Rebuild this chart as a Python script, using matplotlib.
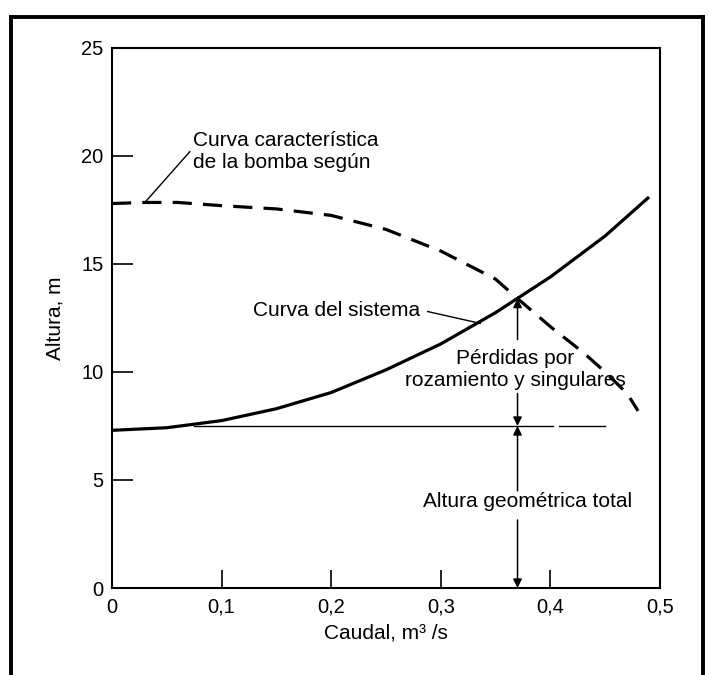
import matplotlib
matplotlib.use("Agg")
import matplotlib.pyplot as plt
from matplotlib.lines import Line2D

plt.rcParams['font.family'] = ['Liberation Sans', 'DejaVu Sans']

# Data
q_sistema = [0.0, 0.05, 0.10, 0.15, 0.20, 0.25, 0.30, 0.35, 0.40, 0.45, 0.49]
h_sistema = [7.3, 7.42, 7.75, 8.3, 9.05, 10.1, 11.3, 12.75, 14.4, 16.3, 18.1]

q_bomba = [0.0, 0.03, 0.06, 0.10, 0.15, 0.20, 0.25, 0.30, 0.35, 0.37, 0.40, 0.43, 0.45, 0.47, 0.48]
h_bomba = [17.8, 17.85, 17.85, 17.7, 17.55, 17.25, 16.6, 15.6, 14.3, 13.4, 12.1, 10.9, 10.0, 9.0, 8.2]

q_operacion = 0.37
h_operacion = 13.4
h_geometrica = 7.5
q_linea_geo = [0.075, 0.45]

xticks = [0, 0.1, 0.2, 0.3, 0.4, 0.5]
xticklabels = ['0', '0,1', '0,2', '0,3', '0,4', '0,5']
yticks = [0, 5, 10, 15, 20, 25]

W, H = 709, 675
fig = plt.figure(figsize=(W / 100, H / 100), dpi=100)
ax = fig.add_axes([112 / W, 1 - 588 / H, (660 - 112) / W, (588 - 48) / H])

ax.set_xlim(0, 0.5)
ax.set_ylim(0, 25)

# Curves
ax.plot(q_sistema, h_sistema, color='black', lw=2.3, solid_capstyle='butt')
ax.plot(q_bomba, h_bomba, color='black', lw=2.3, linestyle=(0, (6, 3.5)), dash_capstyle='butt')

# Horizontal line of geometric head (with small gap)
ax.plot([q_linea_geo[0], 0.402], [h_geometrica, h_geometrica], color='black', lw=1.0)
ax.plot([0.408, q_linea_geo[1]], [h_geometrica, h_geometrica], color='black', lw=1.0)

arrow = dict(arrowstyle='-|>', lw=1.1, color='black', mutation_scale=13, shrinkA=0, shrinkB=0)
# Friction losses arrows
ax.annotate('', xy=(q_operacion, h_operacion), xytext=(q_operacion, 11.5), arrowprops=arrow)
ax.annotate('', xy=(q_operacion, h_geometrica), xytext=(q_operacion, 9.0), arrowprops=arrow)
# Geometric head arrows
ax.annotate('', xy=(q_operacion, h_geometrica), xytext=(q_operacion, 4.5), arrowprops=arrow)
ax.annotate('', xy=(q_operacion, 0), xytext=(q_operacion, 3.15), arrowprops=arrow)

fs = 15
ax.text(0.368, 10.1, 'Pérdidas por\nrozamiento y singulares', ha='center', va='center',
        fontsize=fs, linespacing=1.2)
ax.text(0.3796, 4.0, 'Altura geométrica total', ha='center', va='center', fontsize=fs)

# Pump curve label with leader
ax.text(0.074, 20.2, 'Curva característica\nde la bomba según', ha='left', va='center',
        fontsize=fs, linespacing=1.2)
ax.plot([0.071, 0.030], [20.2, 17.85], color='black', lw=1.0)

# System curve label with leader
ax.text(0.205, 12.85, 'Curva del sistema', ha='center', va='center', fontsize=fs)
ax.plot([0.288, 0.336], [12.8, 12.25], color='black', lw=1.0)

# Axes styling
for s in ax.spines.values():
    s.set_linewidth(1.5)
ax.set_xticks(xticks)
ax.set_xticklabels(xticklabels)
ax.set_yticks(yticks)
ax.tick_params(axis='both', direction='in', labelsize=14.5, width=1.2)
ax.tick_params(axis='y', length=15, pad=6)
ax.tick_params(axis='x', length=13, pad=7)
ax.set_xlabel('Caudal, m³ /s', fontsize=fs, labelpad=5)
ax.set_ylabel('Altura, m', fontsize=fs, labelpad=12)

# Outer frame (left, top, right)
fr = dict(color='black', lw=2.8, transform=fig.transFigure, solid_capstyle='projecting')
fig.add_artist(Line2D([11 / W, 11 / W], [0, 1 - 17 / H], **fr))
fig.add_artist(Line2D([11 / W, 703 / W], [1 - 17 / H, 1 - 17 / H], **fr))
fig.add_artist(Line2D([703 / W, 703 / W], [0, 1 - 17 / H], **fr))

fig.savefig('out.png', dpi=100)
